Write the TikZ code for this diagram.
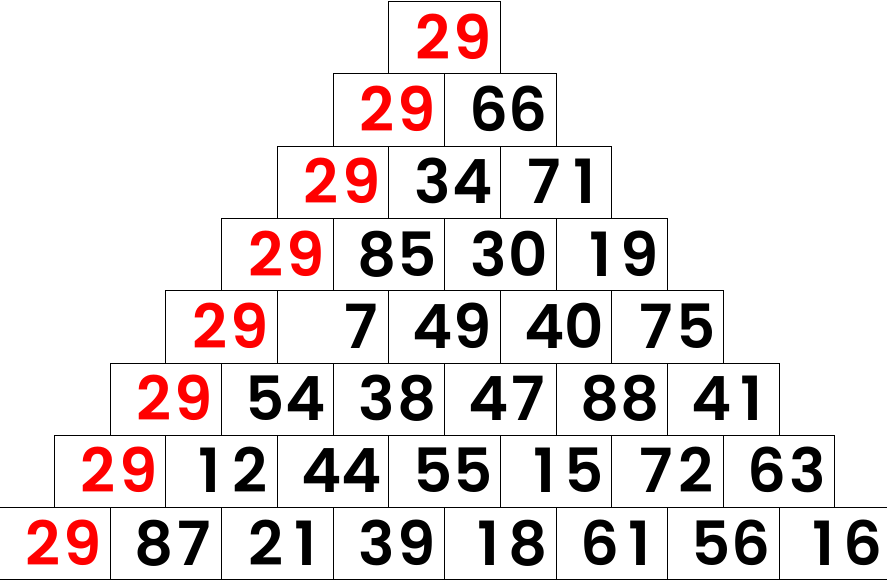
\documentclass[tikz,border=0pt]{standalone}
\usepackage{fontspec}
\setmainfont{Poppins}[UprightFont={* SemiBold}]
% digits set in fixed-width slots (tabular figures)
\def\tabnum#1{\tabnumi#1\relax}
\def\tabnumi#1{\ifx#1\relax\else\makebox[40pt]{#1}\expandafter\tabnumi\fi}
\begin{document}
\begin{tikzpicture}[x=1pt,y=-1pt,
  cell/.style={draw,line width=1pt,anchor=north west,minimum width=111.5pt,minimum height=72.3pt,
    inner xsep=7.5pt,inner ysep=0pt,text width=96.5pt,align=right,text height=43pt,text depth=0pt,
    font=\fontsize{61}{61}\selectfont}
]
\useasboundingbox (0,0) rectangle (887,580);
\foreach \nums [count=\k from 0] in {{29},{29,66},{29,34,71},{29,85,30,19},{29,7,49,40,75},
    {29,54,38,47,88,41},{29,12,44,55,15,72,63},{29,87,21,39,18,61,56,16}}{
  \foreach \n [count=\j from 0] in \nums {
    \ifnum\j=0 \def\numcol{red}\else\def\numcol{black}\fi
    \node[cell,text=\numcol] (b\k-\j) at ({388.3-55.75*\k+111.5*\j},{1+72.3*\k})
      {\expandafter\tabnum\expandafter{\n}};
  }
}
\end{tikzpicture}
\end{document}
